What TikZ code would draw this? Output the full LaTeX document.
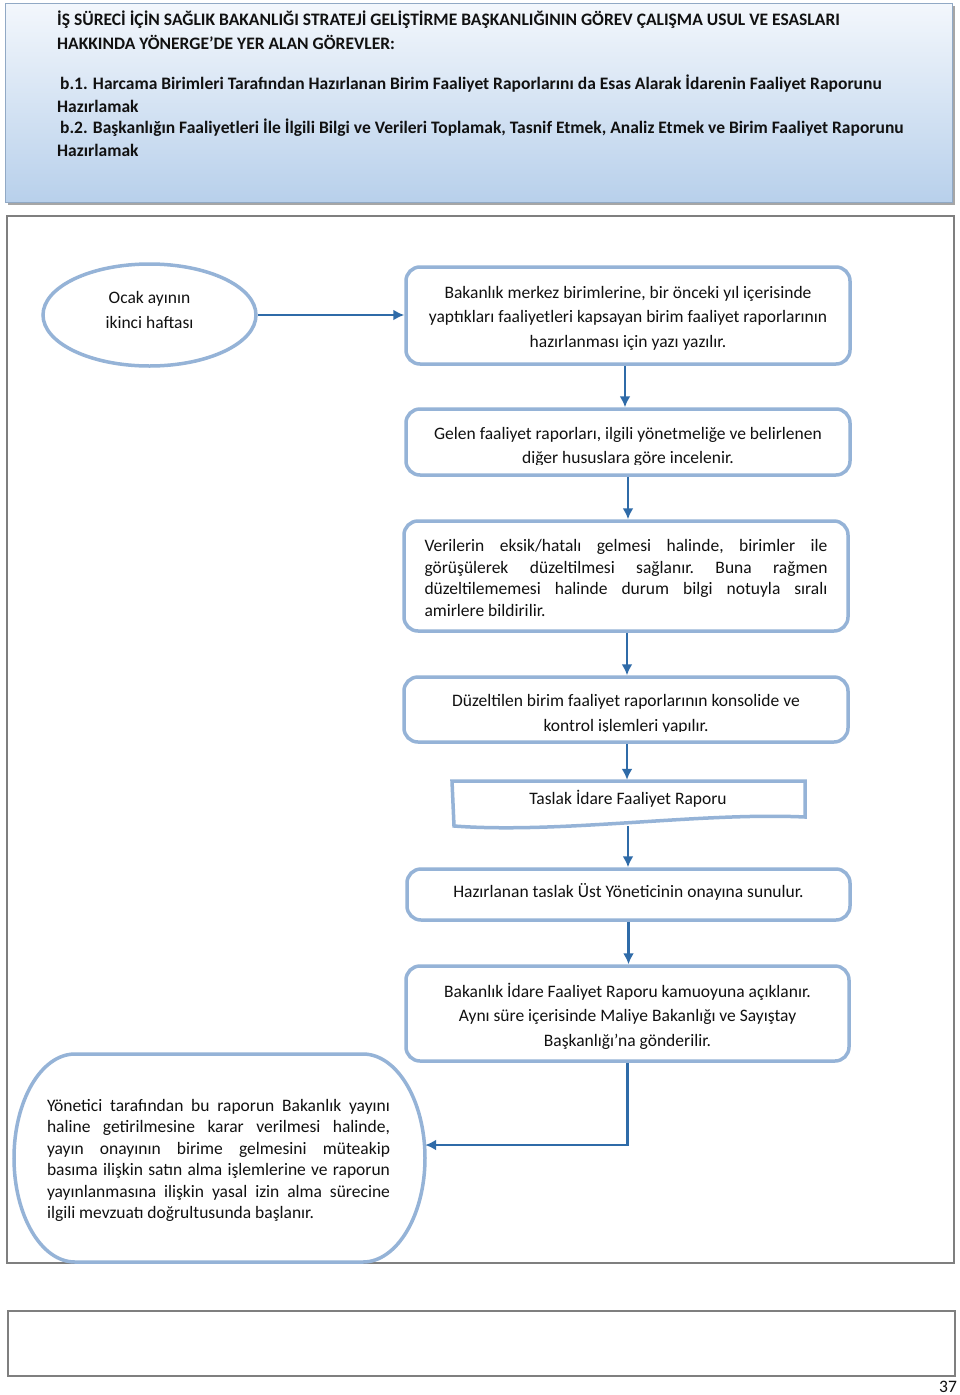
\documentclass[tikz,border=0pt]{standalone}
\usepackage{fontspec}
\setmainfont{Carlito}
\usetikzlibrary{shapes.geometric,arrows.meta}
\definecolor{boxline}{HTML}{95B3D7}
\definecolor{arrowc}{HTML}{2F6BA8}
\definecolor{frame}{HTML}{7F7F7F}
\definecolor{hdtop}{HTML}{F3F7FC}
\definecolor{hdbot}{HTML}{B8D0EB}
\definecolor{txt}{HTML}{111111}
\tikzset{
  stepbox/.style={draw=boxline, line width=3.5pt, rounded corners=14pt, fill=white, inner sep=0pt},
  ctext/.style={text=txt, align=center, inner sep=0pt, font=\fontsize{17.5}{24.5}\selectfont},
  flow/.style={draw=arrowc, line width=2.6pt, -{Latex[length=11pt,width=11pt]}},
  hdtext/.style={anchor=west, inner sep=0pt, text=txt, font=\bfseries\fontsize{17.5}{20}\selectfont},
  justtext/.style={align=justify, font=\frenchspacing\fontsize{17.5}{21.5}\selectfont, text=txt, inner sep=0pt}
}
\begin{document}
\begin{tikzpicture}[x=1pt,y=-1pt]
\useasboundingbox (0,0) rectangle (960,1395);
\fill[white] (0,0) rectangle (960,1395);
% header
\fill[black!35] (8,6) rectangle (955,205);
\shade[top color=hdtop, bottom color=hdbot] (5,3) rectangle (952,202);
\draw[color=boxline!80!gray, line width=1pt] (5,3) rectangle (952,202);
\node[hdtext] (h1) at (57,20) {İŞ SÜRECİ İÇİN SAĞLIK BAKANLIĞI STRATEJİ GELİŞTİRME BAŞKANLIĞININ GÖREV ÇALIŞMA USUL VE ESASLARI};
\node[hdtext] (h2) at (57,42) {HAKKINDA YÖNERGE’DE YER ALAN GÖREVLER:};
\node[hdtext] (h3) at (57,84) {\,b.1. Harcama Birimleri Tarafından Hazırlanan Birim Faaliyet Raporlarını da Esas Alarak İdarenin Faaliyet Raporunu};
\node[hdtext] (h4) at (57,106) {Hazırlamak};
\node[hdtext] (h5) at (57,128) {\,b.2. Başkanlığın Faaliyetleri İle İlgili Bilgi ve Verileri Toplamak, Tasnif Etmek, Analiz Etmek ve Birim Faaliyet Raporunu};
\node[hdtext] (h6) at (57,150) {Hazırlamak};
% frames
\draw[frame, line width=1.2pt] (7,216) rectangle (954,1263);
\draw[frame, line width=1.2pt] (8,1311) rectangle (955,1376);
\node[text=txt, font=\fontsize{17.5}{20}\selectfont, inner sep=0pt] (pg) at (948,1387) {37};
% nodes
\node[ellipse, draw=boxline, line width=3.5pt, fill=white, minimum width=213pt, minimum height=102pt, inner sep=0pt] (start) at (149.5,315) {};
\node[ctext] (st) at (149.5,310) {Ocak ayının\\ikinci haftası};
\node[stepbox, minimum width=444pt, minimum height=97pt] (b1) at (628,315.5) {};
\node[ctext] (b1t) at (628,318)
  {Bakanlık merkez birimlerine, bir önceki yıl içerisinde\\yaptıkları faaliyetleri kapsayan birim faaliyet raporlarının\\hazırlanması için yazı yazılır.};
\node[stepbox, minimum width=444pt, minimum height=66pt] (b2) at (628,442) {};
\node[ctext] (b2t) at (628,447)
  {Gelen faaliyet raporları, ilgili yönetmeliğe ve belirlenen\\diğer hususlara göre incelenir.};
\fill[white] (416,465) rectangle (840,472);
\node[stepbox, minimum width=444pt, minimum height=110pt] (b3) at (626,576) {};
\node[justtext, text width=403pt] (b3t) at (626,578)
  {Verilerin eksik/hatalı gelmesi halinde, birimler ile\linebreak görüşülerek düzeltilmesi sağlanır. Buna rağmen\linebreak düzeltilememesi halinde durum bilgi notuyla sıralı\linebreak amirlere bildirilir.};
\node[stepbox, minimum width=444pt, minimum height=65pt] (b4) at (626,709.5) {};
\node[ctext] (b4t) at (626,714.5)
  {Düzeltilen birim faaliyet raporlarının konsolide ve\\kontrol işlemleri yapılır.};
\fill[white] (414,732) rectangle (838,739);
% document shape
\draw[boxline, line width=3.5pt, fill=white] (452,781) -- (805,781) -- (805,817)
  .. controls (700,812) and (560,834) .. (454,826) -- cycle;
\node[minimum width=354pt, minimum height=46pt, inner sep=0pt] (b5) at (628,803) {};
\node[ctext] (b5t) at (628,799) {Taslak İdare Faaliyet Raporu};
\node[stepbox, minimum width=443pt, minimum height=51pt] (b6) at (628.5,894.5) {};
\node[ctext] (b6t) at (628.5,891.5) {Hazırlanan taslak Üst Yöneticinin onayına sunulur.};
\node[stepbox, minimum width=443pt, minimum height=95pt] (b7) at (627.5,1013.5) {};
\node[ctext] (b7t) at (627.5,1016)
  {Bakanlık İdare Faaliyet Raporu kamuoyuna açıklanır.\\Aynı süre içerisinde Maliye Bakanlığı ve Sayıştay\\Başkanlığı’na gönderilir.};
% terminal shape
\draw[boxline, line width=3.5pt, fill=white] (75,1054) -- (363,1054)
  .. controls (397,1054) and (425,1101) .. (425,1158)
  .. controls (425,1215) and (397,1262) .. (363,1262) -- (75,1262)
  .. controls (41,1262) and (14,1215) .. (14,1158)
  .. controls (14,1101) and (41,1054) .. (75,1054) -- cycle;
\node[minimum width=411pt, minimum height=208pt, inner sep=0pt] (b8) at (219.5,1158) {};
\node[justtext, text width=343pt] (b8t) at (218.5,1160.5)
  {Yönetici tarafından bu raporun Bakanlık yayını\linebreak haline getirilmesine karar verilmesi halinde,\linebreak yayın onayının birime gelmesini müteakip\linebreak basıma ilişkin satın alma işlemlerine ve raporun\linebreak yayınlanmasına ilişkin yasal izin alma sürecine\linebreak ilgili mevzuatı doğrultusunda başlanır.};
% connectors
\draw[flow] (start.east) -- (start.east -| b1.west);
\draw[flow] ([xshift=-3pt]b1.south) -- ([xshift=-3pt]b1.south |- b2.north);
\draw[flow] (b2.south) -- (b2.south |- b3.north);
\draw[flow] ([xshift=1pt]b3.south) -- ([xshift=1pt]b3.south |- b4.north);
\draw[flow] ([xshift=1pt]b4.south) -- ([xshift=1pt]b4.south |- b5.north);
\draw[flow] (b5.south) -- (b5.south |- b6.north);
\draw[flow] (b6.south) -- (b6.south |- b7.north);
\draw[flow] (b7.south) |- ([yshift=13pt]b8.east);
\end{tikzpicture}
\end{document}
